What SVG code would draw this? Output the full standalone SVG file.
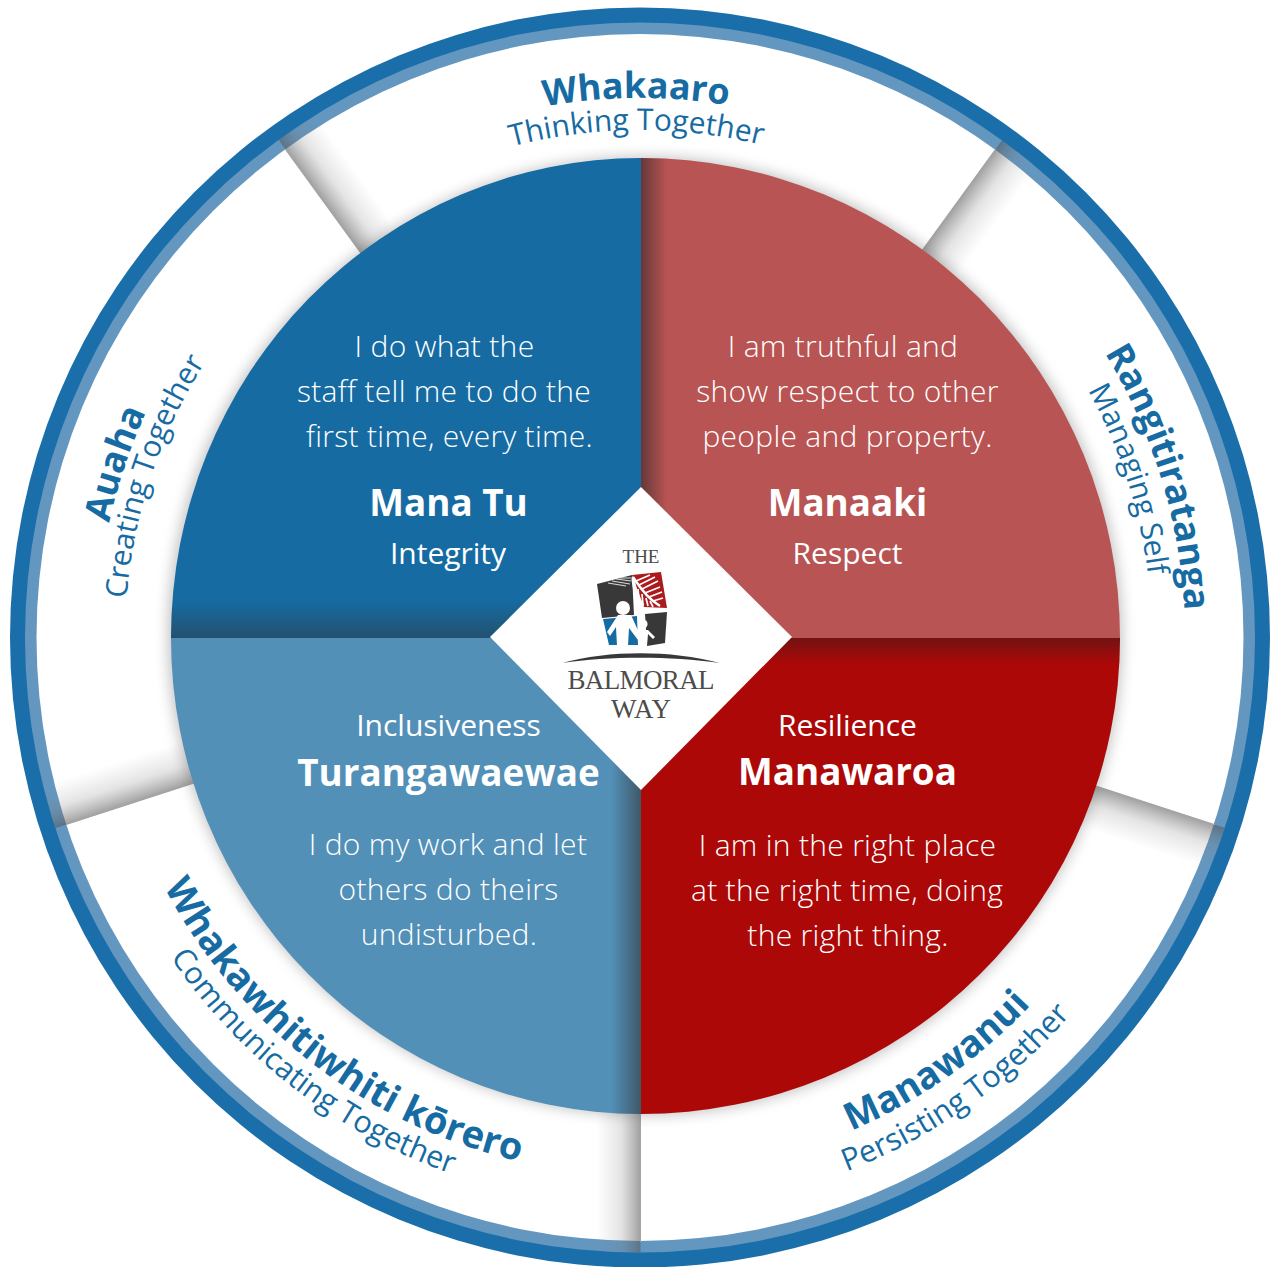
<svg xmlns="http://www.w3.org/2000/svg" width="1274" height="1267" viewBox="0 0 1274 1267">
<style>
text{font-family:"Open Sans","Liberation Sans",sans-serif}
.b{font-weight:300;font-size:30px;letter-spacing:.3px;fill:#fff;text-anchor:middle}
.t{font-weight:700;font-size:36.8px;fill:#fff;text-anchor:middle}
.s{font-weight:400;font-size:30px;fill:#fff;text-anchor:middle}
.rt{font-weight:700;font-size:38px;fill:#166ba3;text-anchor:middle}
.rs{font-weight:400;font-size:30px;fill:#166ba3;text-anchor:middle}
.l{font-family:"Liberation Serif",serif;fill:#4c4c4c;text-anchor:middle}
.wedge{fill:url(#wedgeG)}
.edge{fill:#a4a4a4}
</style>
<defs>
<linearGradient id="wedgeG" x1="0" x2="1" y1="0" y2="0"><stop offset="0" stop-color="#555" stop-opacity=".56"/><stop offset=".45" stop-color="#777" stop-opacity=".2"/><stop offset="1" stop-color="#888" stop-opacity="0"/></linearGradient>
<linearGradient id="downG" x1="0" x2="0" y1="0" y2="1"><stop offset="0" stop-color="#222" stop-opacity=".42"/><stop offset="1" stop-color="#222" stop-opacity="0"/></linearGradient>
<linearGradient id="upG" x1="0" x2="0" y1="1" y2="0"><stop offset="0" stop-color="#333" stop-opacity=".46"/><stop offset="1" stop-color="#333" stop-opacity="0"/></linearGradient>
<linearGradient id="rightG" x1="0" x2="1" y1="0" y2="0"><stop offset="0" stop-color="#222" stop-opacity=".55"/><stop offset="1" stop-color="#222" stop-opacity="0"/></linearGradient>
<linearGradient id="leftG" x1="1" x2="0" y1="0" y2="0"><stop offset="0" stop-color="#333" stop-opacity=".6"/><stop offset="1" stop-color="#333" stop-opacity="0"/></linearGradient>
<filter id="glow" x="-10%" y="-10%" width="120%" height="120%"><feGaussianBlur stdDeviation="7"/></filter>
<clipPath id="ringClip"><circle cx="640" cy="637.5" r="615"/></clipPath>
<clipPath id="cTL"><path d="M641 638V158A470 480 0 0 0 171 638Z"/></clipPath>
<clipPath id="cTR"><path d="M641 638V158A479 480 0 0 1 1120 638Z"/></clipPath>
<clipPath id="cBR"><path d="M641 638H1120A479 476 0 0 1 641 1114Z"/></clipPath>
<clipPath id="cBL"><path d="M641 638H171A470 476 0 0 0 641 1114Z"/></clipPath>
<path id="aWt" d="M223.9 293.8A540 540 0 0 1 1051.2 288"/>
<path id="aWs" d="M248.6 314.2A508 508 0 0 1 1026.8 308.8"/>
<path id="aRt" d="M844.2 132.7A545 545 0 0 1 1102.2 926.8"/>
<path id="aRs" d="M831.8 163.3A512 512 0 0 1 1074.2 909.3"/>
<path id="aAt" d="M177.5 922.5A543 543 0 0 1 440.1 133.1"/>
<path id="aAs" d="M201.4 907.9A515 515 0 0 1 450.4 159.2"/>
<path id="aMt" d="M501.3 1155.7A536 536 0 0 0 1174 684.7"/>
<path id="aMs" d="M492 1190.5A572 572 0 0 0 1209.8 687.9"/>
<path id="aKt" d="M103.8 666.1A537 537 0 0 0 760.8 1161.3"/>
<path id="aKs" d="M72.8 667.7A568 568 0 0 0 767.8 1191.5"/>
</defs>

<g id="ring">
<circle cx="640" cy="637.5" r="630" fill="#1a6eaa"/>
<circle cx="640" cy="637.5" r="615" fill="#6497c0"/>
<circle cx="640" cy="637.5" r="603.5" fill="#fff"/>
</g>

<g id="connectors" clip-path="url(#ringClip)">
<g transform="rotate(-36 640.5 638)"><rect class="wedge" x="640.5" y="20" width="44" height="300"/><rect class="edge" x="640" y="34" width="1.2" height="300"/></g>
<g transform="rotate(36 640.5 638)"><rect class="wedge" x="640.5" y="20" width="44" height="300"/><rect class="edge" x="640" y="34" width="1.2" height="300"/></g>
<g transform="rotate(108 640.5 638)"><rect class="wedge" x="640.5" y="20" width="44" height="300"/><rect class="edge" x="640" y="34" width="1.2" height="300"/></g>
<g transform="rotate(180 640.5 638)"><rect class="wedge" x="640.5" y="20" width="44" height="300"/><rect class="edge" x="640" y="34" width="1.2" height="300"/></g>
<g transform="rotate(252 640.5 638)"><rect class="wedge" x="640.5" y="20" width="44" height="300"/><rect class="edge" x="640" y="34" width="1.2" height="300"/></g>
</g>

<g id="disc">
<ellipse cx="645" cy="636" rx="477" ry="479" fill="#555" opacity=".36" filter="url(#glow)"/>
</g>

<g id="node-mana-tu">
<path d="M641 638V158A470 480 0 0 0 171 638Z" fill="#166ba3"/>
<rect x="171" y="600" width="470" height="38" fill="url(#upG)" clip-path="url(#cTL)"/>
<text class="b" x="444.5" y="357">I do what the</text>
<text class="b" x="444" y="402">staff tell me to do the</text>
<text class="b" x="449.5" y="447">first time, every time.</text>
<text class="t" x="448.5" y="516">Mana Tu</text>
<text class="s" x="448" y="564">Integrity</text>
</g>
<g id="node-manaaki">
<path d="M641 638V158A479 480 0 0 1 1120 638Z" fill="#b85453"/>
<rect x="641" y="158" width="26" height="480" fill="url(#rightG)" clip-path="url(#cTR)"/>
<text class="b" x="843" y="357">I am truthful and</text>
<text class="b" x="847.5" y="402">show respect to other</text>
<text class="b" x="847.5" y="447">people and property.</text>
<text class="t" x="847.5" y="516">Manaaki</text>
<text class="s" x="847.5" y="564">Respect</text>
</g>
<g id="node-manawaroa">
<path d="M641 638H1120A479 476 0 0 1 641 1114Z" fill="#ac0808"/>
<rect x="641" y="638" width="479" height="26" fill="url(#downG)" clip-path="url(#cBR)"/>
<text class="s" x="847.5" y="736">Resilience</text>
<text class="t" x="847.5" y="785">Manawaroa</text>
<text class="b" x="847.5" y="856">I am in the right place</text>
<text class="b" x="847" y="901">at the right time, doing</text>
<text class="b" x="848" y="946">the right thing.</text>
</g>
<g id="node-turangawaewae">
<path d="M641 638H171A470 476 0 0 0 641 1114Z" fill="#5290b8"/>
<rect x="611" y="638" width="30" height="476" fill="url(#leftG)" clip-path="url(#cBL)"/>
<text class="s" x="448.5" y="736">Inclusiveness</text>
<text class="t" x="448.5" y="786">Turangawaewae</text>
<text class="b" x="448" y="855">I do my work and let</text>
<text class="b" x="448.5" y="900">others do theirs</text>
<text class="b" x="449" y="945">undisturbed.</text>
</g>

<g id="node-whakaaro">
<text class="rt" style="font-size:36px"><textPath href="#aWt" startOffset="50%">Whakaaro</textPath></text>
<text class="rs"><textPath href="#aWs" startOffset="50%">Thinking Together</textPath></text>
</g>
<g id="node-rangitiratanga">
<text class="rt" style="font-size:36.5px"><textPath href="#aRt" startOffset="50.8%">Rangitiratanga</textPath></text>
<text class="rs"><textPath href="#aRs" startOffset="50%">Managing Self</textPath></text>
</g>
<g id="node-manawanui">
<text class="rt" style="font-size:37.5px"><textPath href="#aMt" startOffset="50%">Manawanui</textPath></text>
<text class="rs" style="font-size:30.7px"><textPath href="#aMs" startOffset="50%">Persisting Together</textPath></text>
</g>
<g id="node-whakawhitiwhiti">
<text class="rt"><textPath href="#aKt" startOffset="49.3%">Whakawhitiwhiti kōrero</textPath></text>
<text class="rs" style="font-size:30.5px"><textPath href="#aKs" startOffset="49.4%">Communicating Together</textPath></text>
</g>
<g id="node-auaha">
<text class="rt" style="font-size:36.5px"><textPath href="#aAt" startOffset="50%">Auaha</textPath></text>
<text class="rs"><textPath href="#aAs" startOffset="50%">Creating Together</textPath></text>
</g>

<g id="node-centre">
<polygon points="641,487 792,637 641,790 490,637" fill="#fff"/>
<text class="l" x="641" y="563" font-size="19">THE</text>
<polygon points="597,584 632,575 634,615 602,618" fill="#383838"/>
<polygon points="632,575 661,572 667,608 644,607" fill="#ab1a1c"/>
<polygon points="603,619 637,616 638,645 609,645" fill="#166ba3"/>
<polygon points="645,614 667,612 665,643 647,646" fill="#383838"/>
<g stroke="#fff" fill="none">
<path stroke-width="2.4" d="M633 577C640 588 648 599 660 606"/>
<path stroke-width="1.7" d="M636 581L650 575M639 585L655 577M642 589L658 581M645 593L660 587M649 597L662 592M653 601L663 598M635 585L636 594M638 589L639 599M642 594L643 604M646 598L648 606M650 601L653 607"/>
<path stroke-width="3.4" d="M633 579L636 596L643 606"/>
<path stroke-width="1.1" stroke="#d9d9d9" d="M612 581L630 584M616 579L631 581M620 578L632 578M608 583L626 586"/>
</g>
<circle cx="623" cy="608" r="7" fill="#fff"/>
<path d="M618 615L607 632L610 636L616 627L617 646L628 646L629 628L638 640L641 637L631 615Z" fill="#fff"/>
<circle cx="643" cy="624" r="4.6" fill="#fff"/>
<path d="M638 630H648L655 637L653 639L648 634L647 646H641L640 637Z" fill="#fff"/>
<path d="M562 663C610 650 670 650 720 663C670 656 610 656 562 663Z" fill="#383838"/>
<text class="l" x="641" y="689" font-size="27" textLength="147">BALMORAL</text>
<text class="l" x="641" y="718" font-size="27" textLength="60">WAY</text>
</g>
</svg>
